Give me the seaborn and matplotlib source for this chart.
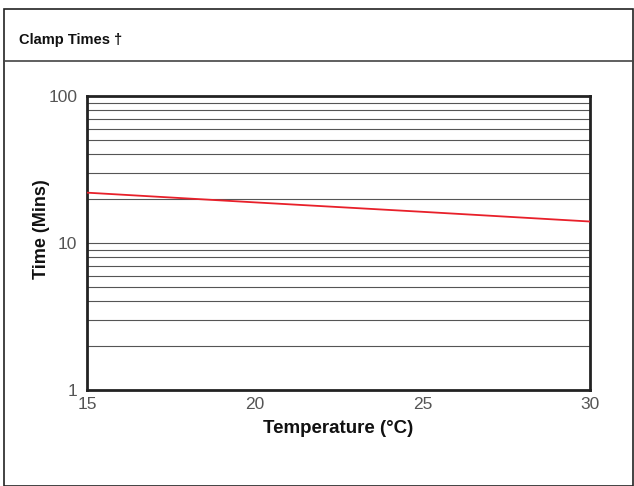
import numpy as np
import matplotlib
matplotlib.use("Agg")
import matplotlib.pyplot as plt
import seaborn as sns
from matplotlib.patches import Rectangle
from matplotlib.lines import Line2D

# data
temps = [15, 20, 25, 30]
times = [22, 18.9, 16.3, 14]
x_ticks = [15, 20, 25, 30]
y_ticks = [1, 10, 100]
grid_vals = [2, 3, 4, 5, 6, 7, 8, 9, 10, 20, 30, 40, 50, 60, 70, 80, 90]

sns.set_style("white")
plt.rcParams['font.family'] = ['Liberation Sans', 'DejaVu Sans']

fig = plt.figure(figsize=(6.34, 4.86), dpi=100)
ax = fig.add_axes([87/634, 1 - 390/486, (590 - 87)/634, (390 - 96)/486])

# outer box and header rule
fig.patches.append(Rectangle((4/634, 0), 629/634, 1 - 9/486, transform=fig.transFigure,
                             fill=False, edgecolor='#222222', linewidth=1.2))
fig.lines.append(Line2D([4/634, 1], [1 - 61/486, 1 - 61/486], transform=fig.transFigure,
                        color='#444444', linewidth=1.2))
fig.text(19/634, 1 - 40/486, "Clamp Times \u2020", fontsize=10.5, fontweight='bold',
         va='center', ha='left', color='#111111')

for g in grid_vals:
    ax.axhline(g, color='#555555', linewidth=0.8, zorder=1)

sns.lineplot(x=temps, y=times, ax=ax, color='#e8202a', linewidth=1.3, zorder=3)

ax.set_yscale('log')
ax.set_xlim(15, 30)
ax.set_ylim(1, 100)
ax.set_xticks(x_ticks)
ax.set_xticklabels([str(t) for t in x_ticks])
ax.set_yticks(y_ticks)
ax.set_yticklabels([str(t) for t in y_ticks])
ax.yaxis.set_minor_locator(matplotlib.ticker.NullLocator())
ax.tick_params(axis='both', labelsize=12.5, labelcolor='#555555', length=4, width=1,
               color='#222222', pad=2)
ax.tick_params(axis='x', direction='inout', length=6, pad=2)
ax.tick_params(axis='y', direction='out', length=4, pad=3)

for s in ax.spines.values():
    s.set_visible(True)
    s.set_color('#222222')
    s.set_linewidth(2)

ax.set_xlabel("Temperature (\u00b0C)", fontsize=13.5, fontweight='bold', color='#111111', labelpad=6)
ax.set_ylabel("Time (Mins)", fontsize=13, fontweight='bold', color='#111111', labelpad=8)
ax.yaxis.set_label_coords(-0.073, 0.548)

fig.savefig("out.png", dpi=100)
